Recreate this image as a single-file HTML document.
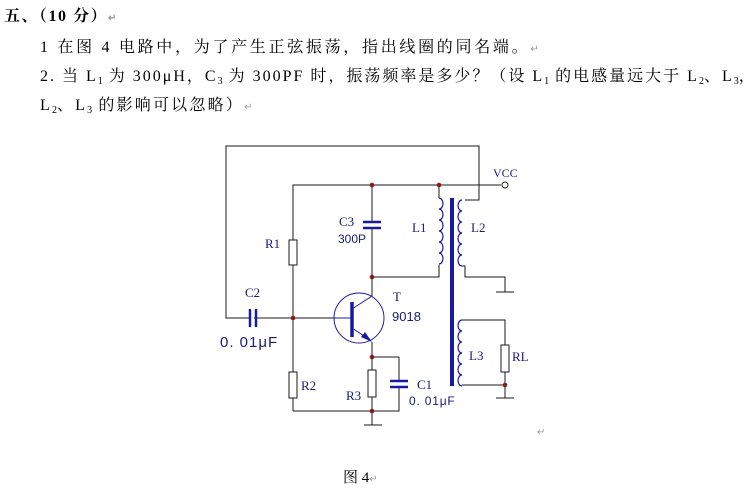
<!DOCTYPE html>
<html><head><meta charset="utf-8"><style>
body{margin:0;width:751px;height:496px;background:#fff;position:relative;overflow:hidden;font-family:"Liberation Serif","Noto Serif CJK SC",serif;color:#000}
.t{position:absolute;white-space:nowrap;font-size:16px;letter-spacing:2.7px}
sub{font-size:10px;vertical-align:-3px;line-height:0;letter-spacing:0}
.m{color:#999;font-size:10px}
</style></head><body>
<div class="t" style="left:4px;top:3px;font-weight:bold;letter-spacing:1.5px">五、（10 分）<span class="m">↵</span></div>
<div class="t" style="left:40px;top:34px">1 在图 4 电路中，为了产生正弦振荡，指出线圈的同名端。<span class="m">↵</span></div>
<div class="t" style="left:40px;top:63px;letter-spacing:2px">2. 当 L<sub>1</sub> 为 300μH，C<sub>3</sub> 为 300PF 时，振荡频率是多少？（设 L<sub>1</sub> 的电感量远大于 L<sub>2</sub>、L<sub>3</sub>，</div>
<div class="t" style="left:40px;top:92px;letter-spacing:2.2px">L<sub>2</sub>、L<sub>3</sub> 的影响可以忽略）<span class="m">↵</span></div>
<div class="t" style="left:343px;top:466px;font-size:15px;letter-spacing:0">图 4<span class="m">↵</span></div>
<div class="t m" style="left:537px;top:427px">↵</div>
<svg width="751" height="496" style="position:absolute;left:0;top:0" font-family="Liberation Sans, sans-serif">
<g stroke="#1a1a1a" stroke-width="1" fill="none">
<polyline points="251,318 226,318 226,146 479,146 479,200 465,200"/>
<polyline points="293,240 293,185 501,185"/>
<line x1="293" y1="265" x2="293" y2="372"/>
<line x1="293" y1="398" x2="293" y2="411"/>
<polyline points="293,411 399,411 399,387"/>
<line x1="399" y1="381" x2="399" y2="357"/>
<polyline points="372,357 399,357"/>
<line x1="372" y1="411" x2="372" y2="397"/>
<line x1="372" y1="370" x2="372" y2="342"/>
<line x1="372" y1="411" x2="372" y2="425"/><line x1="364" y1="425" x2="382" y2="425"/>
<line x1="254" y1="318" x2="334" y2="318"/>
<line x1="372" y1="185" x2="372" y2="221"/>
<line x1="372" y1="229" x2="372" y2="296"/>
<polyline points="372,277 439,277 439,265"/>
<line x1="439" y1="185" x2="439" y2="198"/>
<polyline points="462,266 465,266 465,277 505,277 505,292"/><line x1="496" y1="292" x2="514" y2="292"/>
<polyline points="462,320 505,320 505,345"/>
<polyline points="462,385 505,385"/><line x1="505" y1="372" x2="505" y2="398"/><line x1="496" y1="398" x2="514" y2="398"/>
</g>
<g stroke="#1a1a1a" fill="#fff" stroke-width="1">
<rect x="289" y="240" width="8" height="25"/>
<rect x="289" y="372" width="8" height="26"/>
<rect x="368" y="370" width="8" height="27"/>
<rect x="501" y="345" width="8" height="27"/>
</g>
<circle cx="505" cy="185" r="3" fill="#fff" stroke="#1a1a1a"/>
<g fill="#8b1a1a">
<circle cx="372" cy="185" r="2.3"/><circle cx="439" cy="185" r="2.3"/><circle cx="293" cy="318" r="2.3"/>
<circle cx="372" cy="277" r="2.3"/><circle cx="372" cy="357" r="2.3"/><circle cx="372" cy="411" r="2.3"/><circle cx="505" cy="385" r="2.3"/>
</g>
<g stroke="#1a1aa0" fill="none">
<line x1="363" y1="222" x2="381" y2="222" stroke-width="2.5"/><line x1="363" y1="228" x2="381" y2="228" stroke-width="2.5"/>
<line x1="250" y1="309" x2="250" y2="327" stroke-width="2.5"/><line x1="256" y1="309" x2="256" y2="327" stroke-width="2.5"/>
<line x1="390" y1="381" x2="408" y2="381" stroke-width="2.5"/><line x1="390" y1="387" x2="408" y2="387" stroke-width="2.5"/>
<circle cx="359" cy="318" r="25" stroke-width="1"/>
<line x1="352" y1="302" x2="352" y2="337" stroke-width="3.5"/>
<line x1="334" y1="318" x2="352" y2="318"/>
<line x1="352" y1="309" x2="372" y2="296"/>
<line x1="352" y1="328" x2="370" y2="340"/>
<line x1="452" y1="198" x2="452" y2="386" stroke-width="4"/>
<path d="M439,198 a4,5.5 0 0 1 0,11 a4,5.5 0 0 1 0,11 a4,5.5 0 0 1 0,11 a4,5.5 0 0 1 0,11 a4,5.5 0 0 1 0,11 a4,5.5 0 0 1 0,11" stroke-width="1.2"/>
<path d="M462,200 a4,5.5 0 0 0 0,11 a4,5.5 0 0 0 0,11 a4,5.5 0 0 0 0,11 a4,5.5 0 0 0 0,11 a4,5.5 0 0 0 0,11 a4,5.5 0 0 0 0,11" stroke-width="1.2"/>
<path d="M462,320 a4,5.5 0 0 0 0,11 a4,5.5 0 0 0 0,11 a4,5.5 0 0 0 0,11 a4,5.5 0 0 0 0,11 a4,5.5 0 0 0 0,11 a4,5.5 0 0 0 0,11" stroke-width="1.2"/>
</g>
<polygon points="372,342 361,337 365,332" fill="#1a1aa0"/>
<g fill="#1a1a7a" font-size="13">
<text x="339" y="226" font-family="Liberation Serif, serif">C3</text>
<text x="338" y="243" font-size="12">300P</text>
<text x="412" y="232" font-family="Liberation Serif, serif">L1</text>
<text x="471" y="232" font-family="Liberation Serif, serif">L2</text>
<text x="493" y="177" font-family="Liberation Serif, serif" font-size="12">VCC</text>
<text x="265" y="248" font-family="Liberation Serif, serif">R1</text>
<text x="245" y="297" font-family="Liberation Serif, serif">C2</text>
<text x="220" y="347" font-size="15" letter-spacing="1">0. 01μF</text>
<text x="393" y="301" font-family="Liberation Serif, serif">T</text>
<text x="392" y="321" font-size="13">9018</text>
<text x="301" y="390" font-family="Liberation Serif, serif">R2</text>
<text x="346" y="400" font-family="Liberation Serif, serif">R3</text>
<text x="417" y="389" font-family="Liberation Serif, serif">C1</text>
<text x="409" y="405" font-size="12" letter-spacing="0.8">0. 01μF</text>
<text x="469" y="360" font-family="Liberation Serif, serif">L3</text>
<text x="512" y="361" font-family="Liberation Serif, serif">RL</text>
</g>
</svg>
</body></html>
